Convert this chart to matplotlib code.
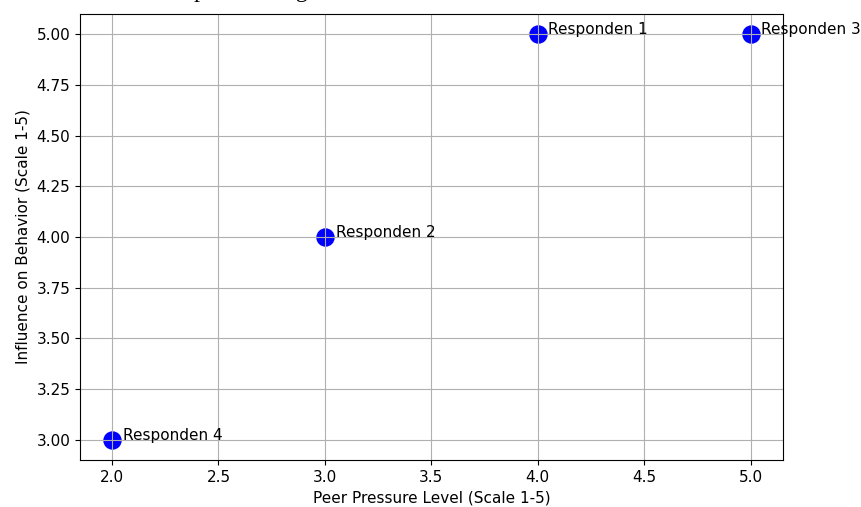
import matplotlib
matplotlib.use("Agg")
import matplotlib.pyplot as plt

# Data
respondents = ["Responden 1", "Responden 2", "Responden 3", "Responden 4"]
peer_pressure = [4, 3, 5, 2]
influence = [5, 4, 5, 3]

plt.rcParams["font.size"] = 11

fig = plt.figure(figsize=(8.61, 5.07), dpi=100)
ax = fig.add_axes([0.093, 0.093, 0.816, 0.879])

ax.scatter(peer_pressure, influence, color="blue", s=150)
for i in range(len(respondents)):
    ax.text(peer_pressure[i] + 0.05, influence[i], respondents[i])

ax.set_xlabel("Peer Pressure Level (Scale 1-5)")
ax.set_ylabel("Influence on Behavior (Scale 1-5)")
ax.grid(True)

# cut-off caption from the source document, only its lower part shows
fig.text(0.5, 1.016, "Gambar 1. Scatter plot hubungan antara Peer Pressure Level dan Influence on Behavior",
         ha="center", va="center", family="Liberation Serif", fontsize=17)

fig.savefig("out.png", dpi=100)
